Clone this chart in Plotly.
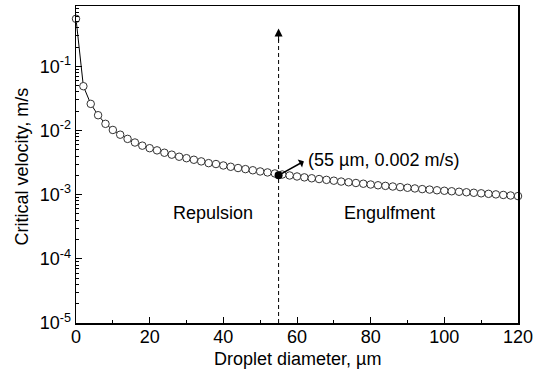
import math
import plotly.graph_objects as go

diameter_um = list(range(0, 122, 2))
critical_velocity = [
    0.55, 0.049, 0.026, 0.0173, 0.0127, 0.0102, 0.0086, 0.0074, 0.0065, 0.0058,
    0.0053, 0.0049, 0.0045, 0.0042, 0.0039, 0.0037, 0.0035, 0.0033, 0.0031, 0.0030,
    0.00285, 0.00272, 0.0026, 0.0025, 0.0024, 0.0023, 0.00222, 0.00214, 0.00206, 0.00199,
    0.00192, 0.00186, 0.0018, 0.00175, 0.0017, 0.00165, 0.0016, 0.00156, 0.00152, 0.00148,
    0.00144, 0.0014, 0.00137, 0.00134, 0.00131, 0.00128, 0.00125, 0.00122, 0.0012, 0.00117,
    0.00115, 0.00113, 0.00111, 0.00109, 0.00107, 0.00105, 0.00103, 0.00101, 0.00099, 0.00097,
    0.00095,
]
critical_point = (55, 0.002)
y_tick_vals = [1e-5, 1e-4, 1e-3, 1e-2, 1e-1]
y_tick_text = ["10<sup>-5</sup>", "10<sup>-4</sup>", "10<sup>-3</sup>", "10<sup>-2</sup>", "10<sup>-1</sup>"]
x_tick_vals = [0, 20, 40, 60, 80, 100, 120]

FONT = "Liberation Sans, Arial, sans-serif"

fig = go.Figure()
fig.add_trace(go.Scatter(
    x=diameter_um, y=critical_velocity, mode="lines+markers",
    line=dict(color="black", width=1),
    marker=dict(symbol="circle", size=7.5, color="white", line=dict(color="#333", width=1)),
    showlegend=False, cliponaxis=False, hoverinfo="skip",
))
fig.add_trace(go.Scatter(
    x=[critical_point[0]], y=[critical_point[1]], mode="markers",
    marker=dict(symbol="circle", size=8, color="black"),
    showlegend=False, hoverinfo="skip",
))

# vertical dashed line at 55 um
fig.add_shape(type="line", x0=55, x1=55, y0=1e-5, y1=10 ** -0.45,
              xref="x", yref="y", line=dict(color="black", width=1, dash="4px,3px"))
fig.add_annotation(x=55, y=-0.41, xref="x", yref="y", ax=0, ay=14, text="",
                   showarrow=True, arrowhead=2, arrowsize=1.6, arrowwidth=1, arrowcolor="black")

fig.add_annotation(x=critical_point[0], y=math.log10(critical_point[1]), xref="x", yref="y",
                   text="(55 \u00b5m, 0.002 m/s)", xanchor="left", yanchor="middle",
                   ax=27, ay=-15, showarrow=True, arrowhead=2, arrowside="start",
                   arrowsize=1, arrowwidth=1.5, arrowcolor="black", standoff=3, startstandoff=2,
                   font=dict(family=FONT, size=18, color="black"))

fig.add_annotation(x=37.3, y=-3.29, xref="x", yref="y", text="Repulsion", showarrow=False,
                   font=dict(family=FONT, size=18, color="black"))
fig.add_annotation(x=85.2, y=-3.29, xref="x", yref="y", text="Engulfment", showarrow=False,
                   font=dict(family=FONT, size=18, color="black"))

# axis titles
fig.add_annotation(xref="paper", yref="paper", x=0, y=0.494, xshift=-54, textangle=-90,
                   text="Critical velocity, m/s", showarrow=False, xanchor="center", yanchor="middle",
                   font=dict(family=FONT, size=18, color="black"))
fig.add_annotation(xref="paper", yref="paper", x=0.5, y=0, yshift=-36,
                   text="Droplet diameter, \u00b5m", showarrow=False, xanchor="center", yanchor="middle",
                   font=dict(family=FONT, size=18, color="black"))

fig.update_xaxes(range=[0, 120], tickvals=x_tick_vals, ticks="inside", ticklen=6, tickwidth=1,
                 tickcolor="black", showline=True, linecolor="black", linewidth=1.5, mirror=True,
                 showgrid=False, zeroline=False, automargin=False, ticklabeloverflow="allow",
                 ticklabelstandoff=-3,
                 minor=dict(ticks="inside", ticklen=3, dtick=10, tickcolor="black", showgrid=False),
                 tickfont=dict(family=FONT, size=18, color="black"))
fig.update_yaxes(type="log", range=[-5, -0.06], tickvals=y_tick_vals, ticktext=y_tick_text,
                 ticks="inside", ticklen=6, tickwidth=1, tickcolor="black",
                 showline=True, linecolor="black", linewidth=1.5, mirror=True,
                 showgrid=False, zeroline=False, automargin=False, ticklabeloverflow="allow",
                 minor=dict(ticks="inside", ticklen=3, dtick="D1", tickcolor="black", showgrid=False),
                 tickfont=dict(family=FONT, size=18, color="black"))

fig.update_layout(width=539, height=378, margin=dict(l=76, r=21, t=6, b=55),
                  plot_bgcolor="white", paper_bgcolor="white", hovermode=False)
fig.write_html("out.html", config={"displayModeBar": False, "staticPlot": True},
               post_script="document.body.style.margin='0';document.body.style.overflow='hidden';")
